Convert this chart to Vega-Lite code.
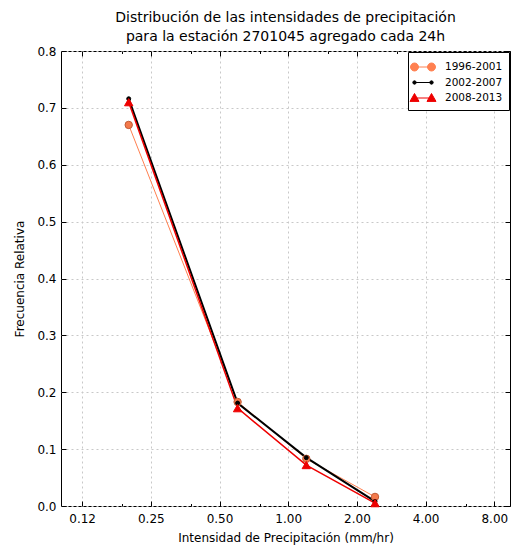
{
  "$schema": "https://vega.github.io/schema/vega-lite/v6.json",
  "autosize": "none",
  "width": 449,
  "height": 455,
  "padding": {"left": 61, "top": 51, "right": 1, "bottom": 48},
  "background": "white",
  "title": {
    "text": ["Distribución de las intensidades de precipitación", "para la estación 2701045 agregado cada 24h"],
    "font": "DejaVu Sans",
    "fontSize": 14,
    "fontWeight": "normal",
    "color": "black",
    "lineHeight": 19,
    "offset": 1,
    "anchor": "middle"
  },
  "config": {
    "font": "DejaVu Sans",
    "view": {"stroke": "black", "strokeWidth": 1},
    "axis": {
      "domain": false,
      "labelFont": "DejaVu Sans",
      "labelFontSize": 12,
      "labelColor": "black",
      "titleFont": "DejaVu Sans",
      "titleFontSize": 12,
      "titleFontWeight": "normal",
      "titleColor": "black",
      "tickColor": "black",
      "tickSize": -5,
      "gridColor": "#c8c8c8",
      "gridDash": [2, 3],
      "gridWidth": 1
    }
  },
  "resolve": {"axis": {"x": "independent", "y": "independent"}},
  "data": {
    "values": [
      {"serie": "1996-2001", "x": 0.2, "y": 0.670},
      {"serie": "1996-2001", "x": 0.6, "y": 0.183},
      {"serie": "1996-2001", "x": 1.2, "y": 0.083},
      {"serie": "1996-2001", "x": 2.4, "y": 0.016},
      {"serie": "2002-2007", "x": 0.2, "y": 0.716},
      {"serie": "2002-2007", "x": 0.6, "y": 0.181},
      {"serie": "2002-2007", "x": 1.2, "y": 0.085},
      {"serie": "2002-2007", "x": 2.4, "y": 0.008},
      {"serie": "2008-2013", "x": 0.2, "y": 0.710},
      {"serie": "2008-2013", "x": 0.6, "y": 0.172},
      {"serie": "2008-2013", "x": 1.2, "y": 0.072},
      {"serie": "2008-2013", "x": 2.4, "y": 0.005}
    ]
  },
  "layer": [
    {
      "encoding": {
        "x": {
          "field": "x",
          "type": "quantitative",
          "scale": {"type": "log", "base": 2, "domain": [0.101, 9.37], "nice": false},
          "axis": {
            "title": "Intensidad de Precipitación (mm/hr)",
            "values": [0.125, 0.25, 0.5, 1, 2, 4, 8],
            "labelExpr": "datum.value == 0.125 ? '0.12' : format(datum.value, '.2f')",
            "labelPadding": 12,
            "titlePadding": 8,
            "grid": true
          }
        },
        "y": {
          "field": "y",
          "type": "quantitative",
          "scale": {"domain": [0, 0.8], "nice": false, "zero": true},
          "axis": {
            "title": "Frecuencia Relativa",
            "values": [0, 0.1, 0.2, 0.3, 0.4, 0.5, 0.6, 0.7, 0.8],
            "format": ".1f",
            "labelPadding": 10,
            "titlePadding": 10,
            "grid": true
          }
        },
        "color": {
          "field": "serie",
          "type": "nominal",
          "scale": {"domain": ["1996-2001", "2002-2007", "2008-2013"], "range": ["#ff8050", "black", "#ee0000"]},
          "legend": {
            "title": null,
            "orient": "top-right",
            "offset": 1,
            "strokeColor": "black",
            "fillColor": "white",
            "padding": 6,
            "rowPadding": 0.5,
            "labelFont": "DejaVu Sans",
            "labelFontSize": 10.5,
            "labelColor": "black",
            "symbolSize": 289,
            "symbolStrokeWidth": 1,
            "labelOffset": 13,
            "encode": {
              "symbols": {
                "update": {
                  "shape": {"signal": "datum.value === '1996-2001' ? 'M-1,0H1M-0.53,0A0.47,0.47 0 1,1 -1.47,0A0.47,0.47 0 1,1 -0.53,0ZM1.47,0A0.47,0.47 0 1,1 0.53,0A0.47,0.47 0 1,1 1.47,0Z' : datum.value === '2002-2007' ? 'M-1,0H1M-0.8,0A0.2,0.2 0 1,1 -1.2,0A0.2,0.2 0 1,1 -0.8,0ZM1.2,0A0.2,0.2 0 1,1 0.8,0A0.2,0.2 0 1,1 1.2,0Z' : 'M-1,0H1M-1,-0.53L-0.47,0.4L-1.53,0.4ZM1,-0.53L1.53,0.4L0.47,0.4Z'"},
                  "fill": {"signal": "datum.value === '1996-2001' ? '#f47a4c' : datum.value === '2002-2007' ? 'black' : '#ee0000'"},
                  "stroke": {"signal": "datum.value === '1996-2001' ? '#c25a35' : datum.value === '2002-2007' ? 'black' : '#ee0000'"}
                }
              }
            }
          }
        }
      },
      "layer": [
        {
          "transform": [{"filter": "datum.serie === '1996-2001'"}],
          "mark": {"type": "line", "strokeWidth": 1, "clip": false}
        },
        {
          "transform": [{"filter": "datum.serie === '2002-2007'"}],
          "mark": {"type": "line", "strokeWidth": 2, "clip": false}
        },
        {
          "transform": [{"filter": "datum.serie === '2008-2013'"}],
          "mark": {"type": "line", "strokeWidth": 1.5, "clip": false}
        },
        {
          "transform": [{"filter": "datum.serie === '1996-2001'"}],
          "mark": {"type": "point", "shape": "circle", "filled": true, "size": 55, "opacity": 1, "fill": "#f47a4c", "stroke": "#c25a35", "strokeWidth": 1, "clip": false}
        },
        {
          "transform": [{"filter": "datum.serie === '2002-2007'"}],
          "mark": {"type": "point", "shape": "circle", "filled": true, "size": 16, "opacity": 1, "fill": "black", "stroke": "black", "strokeWidth": 1, "clip": false}
        },
        {
          "transform": [{"filter": "datum.serie === '2008-2013'"}],
          "mark": {"type": "point", "shape": "triangle-up", "filled": true, "size": 70, "opacity": 1, "fill": "#ee0000", "stroke": "#ee0000", "strokeWidth": 1, "clip": false}
        }
      ]
    },
    {
      "mark": {"type": "point", "opacity": 0},
      "encoding": {
        "x": {
          "field": "x",
          "type": "quantitative",
          "axis": {"orient": "bottom", "values": [0.1875, 0.375, 0.75, 1.5, 3, 6], "labels": false, "grid": false, "title": null, "tickSize": -2.5}
        },
        "y": {
          "field": "y",
          "type": "quantitative",
          "axis": {"orient": "right", "values": [0, 0.1, 0.2, 0.3, 0.4, 0.5, 0.6, 0.7, 0.8], "labels": false, "grid": false, "title": null, "tickSize": -5}
        }
      }
    },
    {
      "mark": {"type": "point", "opacity": 0},
      "encoding": {
        "x": {
          "field": "x",
          "type": "quantitative",
          "axis": {"orient": "top", "values": [0.125, 0.25, 0.5, 1, 2, 4, 8], "labels": false, "grid": false, "title": null, "tickSize": -5}
        },
        "y": {"field": "y", "type": "quantitative", "axis": null}
      }
    },
    {
      "mark": {"type": "point", "opacity": 0},
      "encoding": {
        "x": {
          "field": "x",
          "type": "quantitative",
          "axis": {"orient": "top", "values": [0.1875, 0.375, 0.75, 1.5, 3, 6], "labels": false, "grid": false, "title": null, "tickSize": -2.5}
        },
        "y": {"field": "y", "type": "quantitative", "axis": null}
      }
    }
  ]
}
